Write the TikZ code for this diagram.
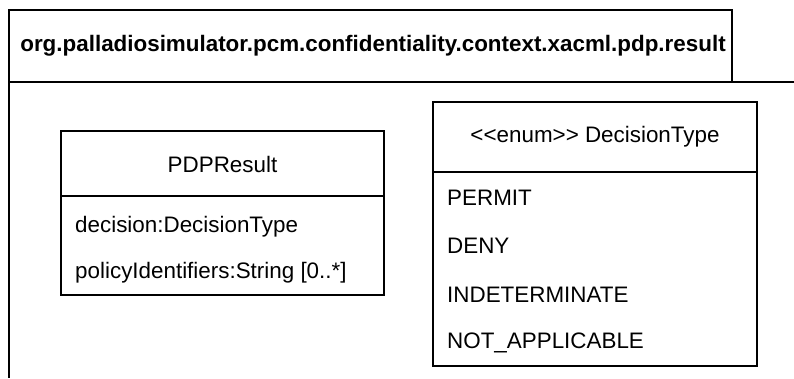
\documentclass[tikz,border=0pt]{standalone}
\usepackage{fontspec}
\setmainfont{Liberation Sans}
\begin{document}
\begin{tikzpicture}[x=1pt,y=-1pt,
  frame/.style={draw=black,line width=1.5pt},
  txt/.style={inner sep=0pt,font=\fontsize{22.4}{25}\selectfont},
  lefttxt/.style={txt,anchor=west},
  boldtxt/.style={inner sep=0pt,font=\fontsize{22.4}{25}\selectfont\bfseries}]
\useasboundingbox (0,0) rectangle (794,378);
% package tab and body
\coordinate (tabNW) at (9,10);
\coordinate (tabSE) at (732,82);
\coordinate (bodyR) at (794,82);
\coordinate (bodyB) at (9,378);
\draw[frame] (tabNW) rectangle (tabSE);
\draw[frame] (bodyR) -- (9,82) -- (bodyB);
\node[boldtxt] (pkg) at (373,46) {org.palladiosimulator.pcm.confidentiality.context.xacml.pdp.result};
% PDPResult
\coordinate (pNW) at (61,131);
\coordinate (pSE) at (384,295);
\draw[frame] (pNW) rectangle (pSE);
\coordinate (pDL) at (61,196);
\coordinate (pDR) at (384,196);
\draw[frame] (pDL) -- (pDR);
\node[txt] (pname) at (222.5,164) {PDPResult};
\node[lefttxt] (pa1) at (75,227) {decision:DecisionType};
\node[lefttxt] (pa2) at (75,273) {policyIdentifiers:String [0..*]};
% DecisionType
\coordinate (dNW) at (433,102);
\coordinate (dSE) at (757,366);
\draw[frame] (dNW) rectangle (dSE);
\coordinate (dDL) at (433,172);
\coordinate (dDR) at (757,172);
\draw[frame] (dDL) -- (dDR);
\node[txt] (dname) at (595,137) {{<}{<}enum{>}{>} DecisionType};
\node[lefttxt] (d1) at (447,198) {PERMIT};
\node[lefttxt] (d2) at (447,246) {DENY};
\node[lefttxt] (d3) at (447,295) {INDETERMINATE};
\node[lefttxt] (d4) at (447,343) {NOT\_APPLICABLE};
\end{tikzpicture}
\end{document}
